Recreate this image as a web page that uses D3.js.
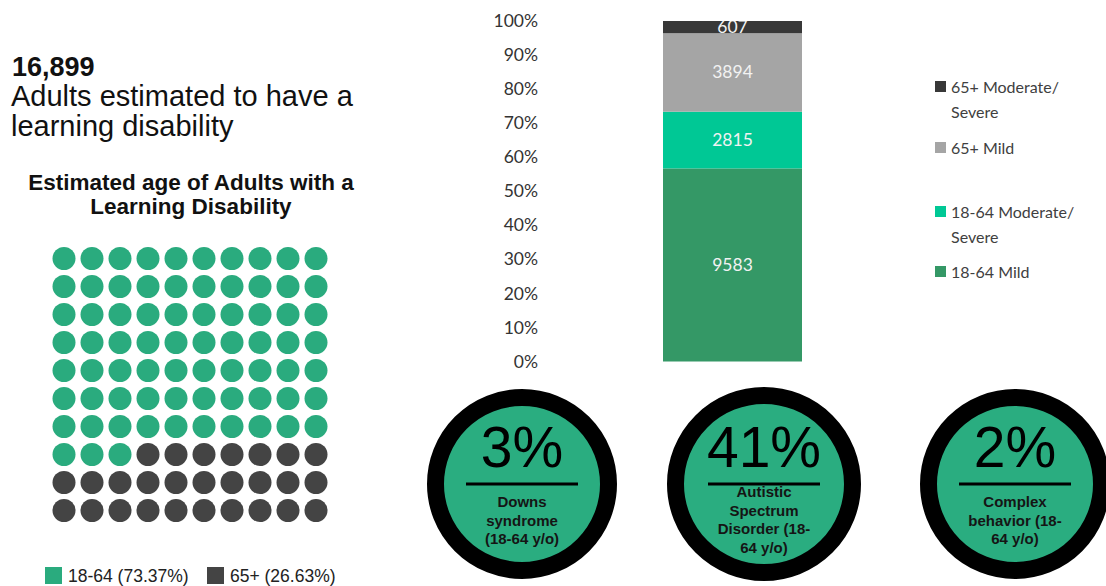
<!DOCTYPE html>
<html>
<head>
<meta charset="utf-8">
<script src="https://cdn.jsdelivr.net/npm/d3@7"></script>
<style>
  body { margin: 0; background: #fff; }
  svg { display: block; }
</style>
</head>
<body>
<svg id="svg" width="1106" height="586"></svg>
<script>
// ****************************************
// Data

var total_adults = 16899;
var headline_lines = ["Adults estimated to have a", "learning disability"];
var waffle_title = ["Estimated age of Adults with a", "Learning Disability"];
var waffle_groups = ["18-64", "65+"];
var waffle_pcts = [73.37, 26.63];

var bar_series = ["18-64 Mild", "18-64 Moderate/Severe", "65+ Mild", "65+ Moderate/Severe"];
var bar_values = [9583, 2815, 3894, 607];
var legend_lines = [["65+ Moderate/", "Severe"], ["65+ Mild"], ["18-64 Moderate/", "Severe"], ["18-64 Mild"]];
var legend_keys = ["65+ Moderate/Severe", "65+ Mild", "18-64 Moderate/Severe", "18-64 Mild"];
var y_ticks = [0, 0.1, 0.2, 0.3, 0.4, 0.5, 0.6, 0.7, 0.8, 0.9, 1];

var circle_values = [3, 41, 2];
var circle_labels = [
  ["Downs", "syndrome", "(18-64 y/o)"],
  ["Autistic", "Spectrum", "Disorder (18-", "64 y/o)"],
  ["Complex", "behavior (18-", "64 y/o)"]
];

// ****************************************
// Styles

var waffle_colors = { "18-64": "#2aab7e", "65+": "#444444" };
var bar_colors = { "18-64 Mild": "#349866", "18-64 Moderate/Severe": "#00c895", "65+ Mild": "#a5a5a5", "65+ Moderate/Severe": "#383838" };
var arial = "Liberation Sans, Arial, sans-serif";
var calibri = "Lato, Open Sans, sans-serif";

var svg = d3.select('#svg');

// ****************************************
// Headline text

svg.append('text').attr('x', 12).attr('y', 76)
  .style('font-family', arial).style('font-weight', 'bold').style('font-size', '27px').style('fill', '#111')
  .text(d3.format(',')(total_adults));

svg.selectAll('.headline').data(headline_lines).enter().append('text')
  .attr('x', 11).attr('y', (d, i) => 106 + i * 30)
  .style('font-family', arial).style('font-size', '29px').style('fill', '#111')
  .text(d => d);

svg.selectAll('.wtitle').data(waffle_title).enter().append('text')
  .attr('x', 191).attr('y', (d, i) => 190 + i * 24).attr('text-anchor', 'middle')
  .style('font-family', arial).style('font-weight', 'bold').style('font-size', '22.5px').style('fill', '#111')
  .text(d => d);

// ****************************************
// Waffle

var dots = [];
var counts = waffle_pcts.map(p => Math.round(p));
waffle_groups.forEach((g, gi) => { d3.range(counts[gi]).forEach(() => dots.push(g)); });

var wx = d3.scaleBand().domain(d3.range(10)).range([50, 330]);
var wy = d3.scaleBand().domain(d3.range(10)).range([244.5, 524.5]);

svg.append('g').selectAll('circle').data(dots).enter().append('circle')
  .attr('cx', (d, i) => wx(i % 10) + wx.bandwidth() / 2)
  .attr('cy', (d, i) => wy(Math.floor(i / 10)) + wy.bandwidth() / 2)
  .attr('r', 11.5)
  .style('fill', d => waffle_colors[d]);

var wleg = svg.append('g').selectAll('g').data(waffle_groups).enter().append('g')
  .attr('transform', (d, i) => 'translate(' + [45, 207][i] + ',567)');
wleg.append('rect').attr('width', 17).attr('height', 17).style('fill', d => waffle_colors[d]);
wleg.append('text').attr('x', 23).attr('y', 15)
  .style('font-family', arial).style('font-size', '17.5px').style('fill', '#222')
  .text((d, i) => d + ' (' + waffle_pcts[i].toFixed(2) + '%)');

// ****************************************
// Stacked 100% bar

var y = d3.scaleLinear().domain([0, 1]).range([361.5, 21]);
var bar_x = d3.scaleBand().domain(['all']).range([663, 802]);

var stack = d3.stack().keys(bar_series).offset(d3.stackOffsetExpand);
var table = [Object.fromEntries(bar_series.map((k, i) => [k, bar_values[i]]))];
var layers = stack(table);

var y_axis = svg.append('g').attr('transform', 'translate(540,0)')
  .call(d3.axisLeft(y).tickValues(y_ticks).tickFormat(d3.format('.0%')).tickSize(0).tickPadding(2));
y_axis.select('.domain').remove();
y_axis.selectAll('text').style('font-family', calibri).style('font-size', '17.5px').style('fill', '#333');

var bars = svg.append('g').selectAll('g').data(layers).enter().append('g');
bars.append('rect')
  .attr('x', bar_x('all')).attr('width', bar_x.bandwidth())
  .attr('y', d => y(d[0][1])).attr('height', d => y(d[0][0]) - y(d[0][1]))
  .style('fill', d => bar_colors[d.key]);

svg.append('clipPath').attr('id', 'barclip').append('rect')
  .attr('x', bar_x('all')).attr('width', bar_x.bandwidth()).attr('y', y(1)).attr('height', y(0) - y(1));

bars.append('text')
  .attr('clip-path', 'url(#barclip)')
  .attr('x', bar_x('all') + bar_x.bandwidth() / 2)
  .attr('y', d => (y(d[0][0]) + y(d[0][1])) / 2 + 6)
  .attr('text-anchor', 'middle')
  .style('font-family', calibri).style('font-size', '17.5px').style('fill', '#f2f2f2')
  .text((d, i) => bar_values[i]);

// ****************************************
// Legend (right)

var lg = svg.append('g').selectAll('g').data(legend_keys).enter().append('g')
  .attr('transform', (d, i) => 'translate(935,' + [87, 148, 212, 272][i] + ')');
lg.append('rect').attr('x', 0).attr('y', -6).attr('width', 11).attr('height', 11).style('fill', d => bar_colors[d]);
lg.each(function(d, i) {
  d3.select(this).selectAll('text').data(legend_lines[i]).enter().append('text')
    .attr('x', 16).attr('y', (t, j) => 6 + j * 25)
    .style('font-family', calibri).style('font-size', '16px').style('fill', '#404040')
    .text(t => t);
});

// ****************************************
// Percentage circles

var cx = d3.scalePoint().domain(d3.range(circle_values.length)).range([522, 1015]);
var cg = svg.append('g').selectAll('g').data(circle_values).enter().append('g')
  .attr('transform', (d, i) => 'translate(' + (i == 1 ? 764 : cx(i)) + ',484)');

cg.append('circle').attr('r', (d, i) => i == 1 ? 88.5 : 86.5)
  .style('fill', '#2aad80').style('stroke', '#000').style('stroke-width', 17);

cg.append('text').attr('y', -17).attr('text-anchor', 'middle')
  .style('font-family', arial).style('font-size', '57px').style('fill', '#000')
  .text(d => d + '%');

cg.append('line').attr('x1', -56).attr('x2', 56).attr('y1', 0).attr('y2', 0)
  .style('stroke', '#000').style('stroke-width', 3);

cg.each(function(d, i) {
  var lines = circle_labels[i];
  var start = lines.length > 3 ? 13 : 23;
  d3.select(this).selectAll('.lab').data(lines).enter().append('text')
    .attr('y', (t, j) => start + j * 18.5).attr('text-anchor', 'middle')
    .style('font-family', arial).style('font-weight', 'bold').style('font-size', '15px').style('fill', '#151515')
    .text(t => t);
});
</script>
</body>
</html>
